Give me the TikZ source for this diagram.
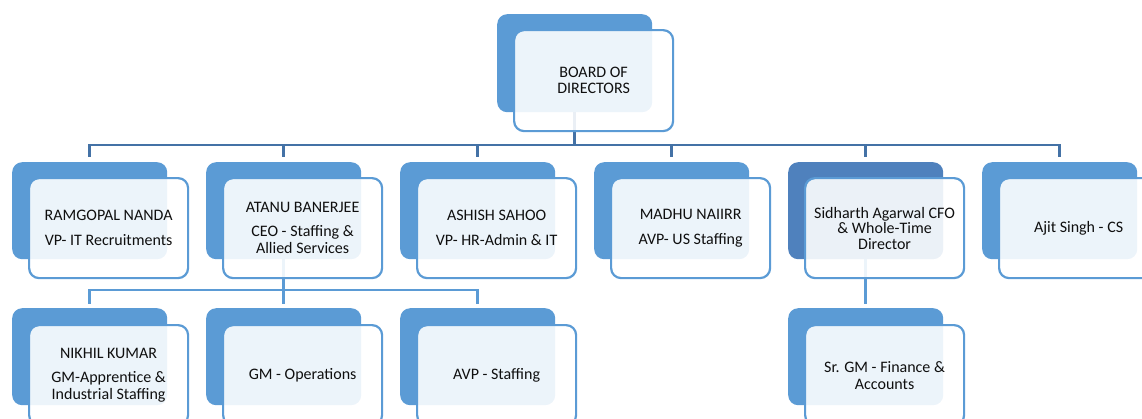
\documentclass[tikz,border=0pt]{standalone}
\usepackage{fontspec}
\setmainfont{Carlito}
\definecolor{accent}{RGB}{91,155,213}
\definecolor{accentdk}{RGB}{79,129,189}
\definecolor{connA}{RGB}{68,114,166}
\definecolor{txt}{RGB}{15,15,15}
\tikzset{
  backbox/.style={draw=none, fill=#1, rounded corners=10pt, minimum width=155pt,
    minimum height=97pt, anchor=north west, inner sep=0pt},
  backbox/.default=accent,
  frontbox/.style={draw=accent, line width=2.2pt, fill=white, fill opacity=0.89,
    draw opacity=1, text opacity=1, rounded corners=10pt, minimum width=159pt,
    minimum height=100pt, anchor=north west, align=center, inner sep=0pt,
    font=\fontsize{16}{17}\selectfont, text=txt},
  conn/.style={draw=connA, line width=2.8pt, shorten >=5pt},
  conntwo/.style={draw=accent, line width=2.8pt, shorten >=4pt},
}
\begin{document}
\begin{tikzpicture}[x=1pt,y=-1pt]
\useasboundingbox (0,0) rectangle (1142,418);
\clip (0,0) rectangle (1142,418);
% back boxes
\node[backbox, minimum height=98pt] (bb) at (497,14) {};
\node[backbox] (r1b) at (12,162) {};
\node[backbox] (r2b) at (206,162) {};
\node[backbox] (r3b) at (400,162) {};
\node[backbox] (r4b) at (594,162) {};
\node[backbox=accentdk] (r5b) at (788,162) {};
\node[backbox] (r6b) at (982,162) {};
\node[backbox] (c1b) at (12,308) {};
\node[backbox] (c2b) at (206,308) {};
\node[backbox] (c3b) at (400,308) {};
\node[backbox] (s1b) at (788,308) {};
% connectors
\coordinate (bar1) at (0,145);
\coordinate (bar2) at (0,290);
\foreach \n in {r1b,r2b,r3b,r4b,r5b,r6b}
  \draw[conn] (bb.south) -- (bb.south |- bar1) -| (\n.north);
\foreach \n in {c1b,c2b,c3b}
  \draw[conntwo] (r2b.south) -- (r2b.south |- bar2) -| (\n.north);
\draw[conntwo] (r5b.south) -- (s1b.north);
% front boxes
\node[frontbox, minimum height=101pt] (board) at (513,29) {BOARD OF\\[-1pt]DIRECTORS};
\node[frontbox] (r1) at (28,177) {RAMGOPAL NANDA\\[8pt]VP- IT Recruitments};
\node[frontbox] (r2) at (222,177) {ATANU BANERJEE\\[7pt]CEO - Staffing \&\\Allied Services};
\node[frontbox] (r3) at (416,177) {ASHISH SAHOO\\[8pt]VP- HR-Admin \& IT};
\node[frontbox] (r4) at (610,177) {MADHU NAIIRR\\[8pt]AVP- US Staffing};
\node[frontbox] (r5) at (804,177) {Sidharth Agarwal CFO\\[-1.5pt]\& Whole-Time\\[-1.5pt]Director};
\node[frontbox] (r6) at (998,177) {Ajit Singh - CS};
\node[frontbox] (c1) at (28,324) {NIKHIL KUMAR\\[7pt]GM-Apprentice \&\\Industrial Staffing};
\node[frontbox] (c2) at (222,324) {GM - Operations};
\node[frontbox] (c3) at (416,324) {AVP - Staffing};
\node[frontbox] (s1) at (804,324) {Sr. GM - Finance \&\\Accounts};
\end{tikzpicture}
\end{document}
